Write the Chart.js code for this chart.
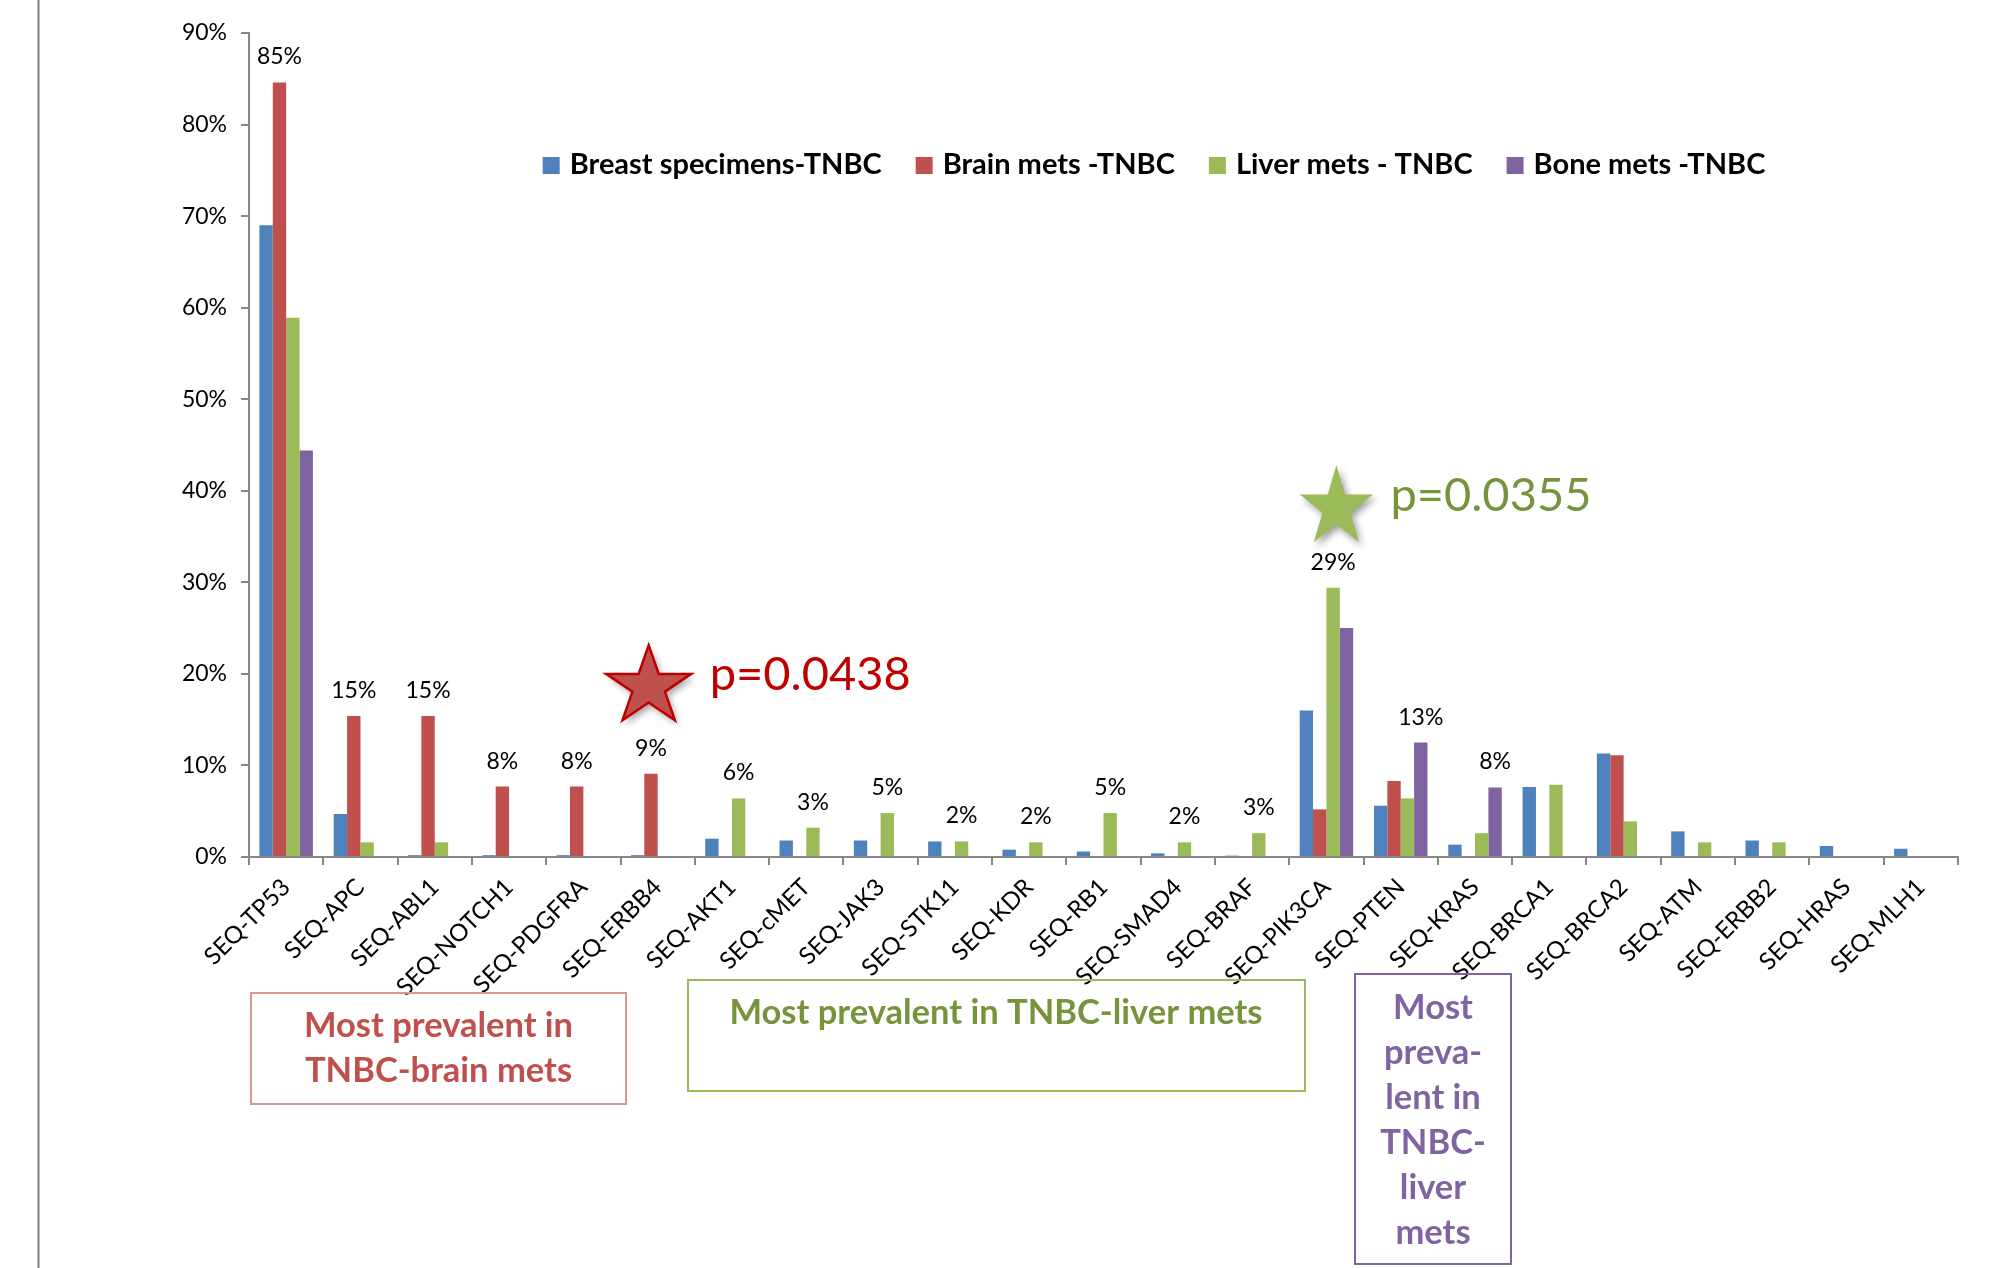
<!DOCTYPE html>
<html>
<head>
<meta charset="utf-8">
<script src="https://cdn.jsdelivr.net/npm/chart.js@4.4.1/dist/chart.umd.min.js"></script>
<style>
  html, body { margin: 0; padding: 0; background: #ffffff; }
  #wrap { width: 2001px; height: 1268px; position: relative; }
</style>
</head>
<body>
<div id="wrap"><canvas id="chart" width="2001" height="1268"></canvas></div>
<script>
// Gene panel (x categories)
const genes = ['SEQ-TP53', 'SEQ-APC', 'SEQ-ABL1', 'SEQ-NOTCH1', 'SEQ-PDGFRA', 'SEQ-ERBB4', 'SEQ-AKT1',
  'SEQ-cMET', 'SEQ-JAK3', 'SEQ-STK11', 'SEQ-KDR', 'SEQ-RB1', 'SEQ-SMAD4', 'SEQ-BRAF', 'SEQ-PIK3CA',
  'SEQ-PTEN', 'SEQ-KRAS', 'SEQ-BRCA1', 'SEQ-BRCA2', 'SEQ-ATM', 'SEQ-ERBB2', 'SEQ-HRAS', 'SEQ-MLH1'];

// Mutation frequency per cohort (fraction of specimens)
const breastTNBC = [0.690, 0.047, 0.002, 0.002, 0.002, 0.002, 0.020, 0.018, 0.018, 0.017, 0.008, 0.006,
  0.004, 0.0015, 0.160, 0.056, 0.0135, 0.0765, 0.113, 0.028, 0.018, 0.012, 0.009];
const brainMets = [0.846, 0.154, 0.154, 0.077, 0.077, 0.091, null, null, null, null, null, null,
  null, null, 0.052, 0.083, null, null, 0.111, null, null, null, null];
const liverMets = [0.589, 0.016, 0.016, null, null, null, 0.064, 0.032, 0.048, 0.017, 0.016, 0.048,
  0.016, 0.026, 0.294, 0.064, 0.026, 0.079, 0.039, 0.016, 0.016, null, null];
const boneMets = [0.444, null, null, null, null, null, null, null, null, null, null, null,
  null, null, 0.250, 0.125, 0.076, null, null, null, null, null, null];

const seriesNames = ['Breast specimens-TNBC', 'Brain mets -TNBC', 'Liver mets - TNBC', 'Bone mets -TNBC'];
const seriesColors = ['#4F81BD', '#C0504D', '#9BBB59', '#8064A2'];

// Cohort whose frequency is printed above each gene (-1 = no label)
const labelledSeries = [1, 1, 1, 1, 1, 1, 2, 2, 2, 2, 2, 2, 2, 2, 2, 3, 3, -1, -1, -1, -1, -1, -1];

// Y axis range and tick step
const yMin = 0, yMax = 0.9, yStep = 0.1;

// Significance call-outs: gene index, height on the value axis, p-value text
const brainCallout = { gene: 5, level: 0.186, text: 'p=0.0438' };
const liverCallout = { gene: 14, level: 0.3815, text: 'p=0.0355' };

const FONT = 'Lato, "Open Sans", "DejaVu Sans", sans-serif';

function pct(v) { return Math.round(v * 100) + '%'; }

function starPath(ctx, cx, cy, rx, ry) {
  ctx.beginPath();
  for (let k = 0; k < 10; k++) {
    const a = -Math.PI / 2 + k * Math.PI / 5;
    const r = (k % 2 === 0) ? 1 : 0.382;
    const x = cx + rx * r * Math.cos(a);
    const y = cy + ry * r * Math.sin(a);
    if (k === 0) ctx.moveTo(x, y); else ctx.lineTo(x, y);
  }
  ctx.closePath();
}

const decorations = {
  id: 'decorations',
  afterDatasetsDraw(chart) {
    const ctx = chart.ctx;
    ctx.save();
    ctx.font = '23px ' + FONT;
    ctx.fillStyle = '#000000';
    ctx.textAlign = 'center';
    ctx.textBaseline = 'alphabetic';
    labelledSeries.forEach((s, i) => {
      if (s < 0) return;
      const bar = chart.getDatasetMeta(s).data[i];
      const v = chart.data.datasets[s].data[i];
      ctx.fillText(pct(v), bar.x, bar.y - 18);
    });
    ctx.restore();
  },
  afterDraw(chart) {
    const ctx = chart.ctx;
    const xs = chart.scales.x, ys = chart.scales.y;

    // slide edge line on the left
    ctx.save();
    ctx.strokeStyle = '#7F7F7F';
    ctx.lineWidth = 2;
    ctx.beginPath();
    ctx.moveTo(38.5, 0);
    ctx.lineTo(38.5, 1268);
    ctx.stroke();
    ctx.restore();

    // legend inside the plot
    ctx.save();
    ctx.font = 'bold 29px ' + FONT;
    ctx.textBaseline = 'alphabetic';
    ctx.textAlign = 'left';
    const sq = 17, gapIn = 10, gapOut = 34;
    const widths = chart.data.datasets.map(d => ctx.measureText(d.label).width);
    let total = 0;
    widths.forEach((w, i) => { total += sq + gapIn + w + (i < widths.length - 1 ? gapOut : 0); });
    let lx = 1154 - total / 2;
    const base = 174;
    chart.data.datasets.forEach((d, i) => {
      ctx.fillStyle = d.backgroundColor;
      ctx.fillRect(lx, base - sq, sq, sq);
      ctx.fillStyle = '#000000';
      ctx.fillText(d.label, lx + sq + gapIn, base);
      lx += sq + gapIn + widths[i] + gapOut;
    });
    ctx.restore();

    // significance stars
    const drawCallout = (c, dx, rx, ry, fill, stroke, textColor, textDx) => {
      const cx = xs.getPixelForValue(c.gene) + dx;
      const cy = ys.getPixelForValue(c.level);
      ctx.save();
      ctx.shadowColor = 'rgba(0,0,0,0.38)';
      ctx.shadowBlur = 7;
      ctx.shadowOffsetX = 3;
      ctx.shadowOffsetY = 4;
      starPath(ctx, cx, cy, rx, ry);
      ctx.fillStyle = fill;
      ctx.fill();
      ctx.shadowColor = 'rgba(0,0,0,0)';
      if (stroke) {
        ctx.strokeStyle = stroke;
        ctx.lineWidth = 2.5;
        ctx.lineJoin = 'miter';
        ctx.stroke();
      }
      ctx.restore();
      ctx.save();
      ctx.font = '47px ' + FONT;
      ctx.fillStyle = textColor;
      ctx.textAlign = 'left';
      ctx.textBaseline = 'alphabetic';
      ctx.fillText(c.text, cx + textDx, cy + 3);
      ctx.restore();
    };
    drawCallout(brainCallout, -9, 44.7, 41.5, '#C0504D', '#C00000', '#C00000', 61);
    drawCallout(liverCallout, 10, 38.4, 42.6, '#9BBB59', null, '#77933C', 54);

    // group boxes below the gene labels
    const box = (x, y, w, h, border, color, lines, baselines, cxText) => {
      ctx.save();
      ctx.strokeStyle = border;
      ctx.lineWidth = 2;
      ctx.strokeRect(x, y, w, h);
      ctx.font = 'bold 34.5px ' + FONT;
      ctx.fillStyle = color;
      ctx.textAlign = 'center';
      ctx.textBaseline = 'alphabetic';
      lines.forEach((t, i) => ctx.fillText(t, cxText, baselines[i]));
      ctx.restore();
    };
    box(251, 993, 375, 111, '#D99694', '#C0504D', ['Most prevalent in', 'TNBC-brain mets'], [1037, 1082], 438.5);
    box(688, 980, 617, 111, '#9BBB59', '#77933C', ['Most prevalent in TNBC-liver mets'], [1024], 996);
    box(1355, 974, 156, 290, '#8064A2', '#8064A2',
      ['Most', 'preva-', 'lent in', 'TNBC-', 'liver', 'mets'],
      [1019, 1064, 1109, 1154, 1199, 1244], 1433);
  }
};

const seriesData = [breastTNBC, brainMets, liverMets, boneMets];

new Chart(document.getElementById('chart'), {
  type: 'bar',
  data: {
    labels: genes,
    datasets: seriesData.map((d, i) => ({
      label: seriesNames[i],
      data: d,
      backgroundColor: seriesColors[i],
      borderWidth: 0,
      categoryPercentage: 0.72,
      barPercentage: 1.0
    }))
  },
  options: {
    responsive: false,
    animation: false,
    devicePixelRatio: 1,
    layout: { padding: { top: 33, right: 43, bottom: 0, left: 0 } },
    plugins: {
      legend: { display: false },
      tooltip: { enabled: false }
    },
    scales: {
      x: {
        grid: { display: true, drawOnChartArea: false, drawTicks: true, tickLength: 8, color: '#868686', lineWidth: 2 },
        border: { display: true, color: '#868686', width: 2 },
        ticks: {
          autoSkip: false, maxRotation: 45, minRotation: 45, padding: 8,
          color: '#000000', font: { family: FONT, size: 24 }
        },
        afterFit(s) { s.height = 411; }
      },
      y: {
        min: yMin, max: yMax,
        grid: { display: true, drawOnChartArea: false, drawTicks: true, tickLength: 8, color: '#868686', lineWidth: 2 },
        border: { display: true, color: '#868686', width: 2 },
        ticks: {
          stepSize: yStep, padding: 14, color: '#000000',
          font: { family: FONT, size: 23 },
          callback: v => pct(v)
        },
        afterFit(s) { s.width = 249; }
      }
    }
  },
  plugins: [decorations]
});
</script>
</body>
</html>
